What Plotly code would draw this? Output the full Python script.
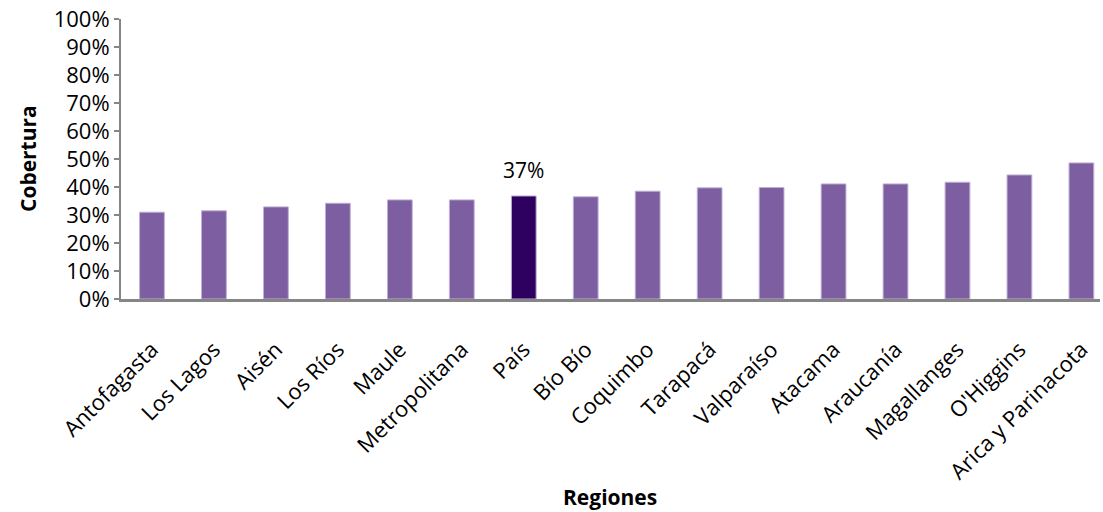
import plotly.graph_objects as go

# Datos
regiones = ["Antofagasta", "Los Lagos", "Aisén", "Los Ríos", "Maule", "Metropolitana",
            "País", "Bío Bío", "Coquimbo", "Tarapacá", "Valparaíso", "Atacama",
            "Araucanía", "Magallanges", "O'Higgins", "Arica y Parinacota"]
cobertura = [0.310, 0.315, 0.329, 0.342, 0.354, 0.354,
             0.368, 0.365, 0.385, 0.397, 0.398, 0.411,
             0.411, 0.417, 0.443, 0.486]
ticks_y = [i / 10 for i in range(11)]
etiqueta_pais = "37%"

colores = ["#2E0060" if r == "País" else "#7D5EA0" for r in regiones]
i_pais = regiones.index("País")

fig = go.Figure()
fig.add_trace(go.Bar(
    x=regiones,
    y=cobertura,
    marker=dict(color=colores, line=dict(color="#BFB0D6", width=1)),
    cliponaxis=False,
))

# area de trazado en pixeles (el body se deja sin margen, ver write_html)
W, H = 1103, 512
izq, der, arriba, abajo = 121, 3, 19, 512 - 299
plot_w = W - izq - der
plot_h = H - arriba - abajo
y0 = 299


def px_x(x):
    return (x - izq) / plot_w


def px_y(y):
    return (y0 - y) / plot_h


fig.update_layout(
    width=W, height=H,
    margin=dict(l=izq, r=der, t=arriba, b=abajo, autoexpand=False),
    paper_bgcolor="white", plot_bgcolor="white",
    font=dict(family="Open Sans", color="#000000"),
    bargap=0.6,
    showlegend=False,
    annotations=[
        dict(text="<b>Cobertura</b>", x=px_x(28), y=px_y(159),
             xref="paper", yref="paper", xanchor="center", yanchor="middle",
             showarrow=False, textangle=-90, font=dict(size=21)),
        dict(text="<b>Regiones</b>", x=px_x(610), y=px_y(497),
             xref="paper", yref="paper", xanchor="center", yanchor="middle",
             showarrow=False, font=dict(size=21)),
        dict(text=etiqueta_pais, x=regiones[i_pais], y=cobertura[i_pais],
             xref="x", yref="y", showarrow=False, yshift=26,
             font=dict(size=21)),
    ],
)

fig.update_yaxes(
    range=[0, 1], tickvals=ticks_y, tickformat=".0%",
    showline=True, linecolor="#868686", linewidth=2,
    ticks="outside", ticklen=5, tickcolor="#868686", tickwidth=2,
    showgrid=False, zeroline=False, automargin=False,
    ticklabeloverflow="allow",
    tickfont=dict(size=22),
)
fig.update_xaxes(
    range=[-0.5, 15.3],
    showline=True, linecolor="#868686", linewidth=3,
    ticks="outside", ticklen=26, tickcolor="rgba(0,0,0,0)",
    tickangle=-45, tickfont=dict(size=22),
    ticklabeloverflow="allow",
    showgrid=False, automargin=False,
)

fig.write_html("out.html", config={"displayModeBar": False},
               post_script="document.body.style.margin='0';")
